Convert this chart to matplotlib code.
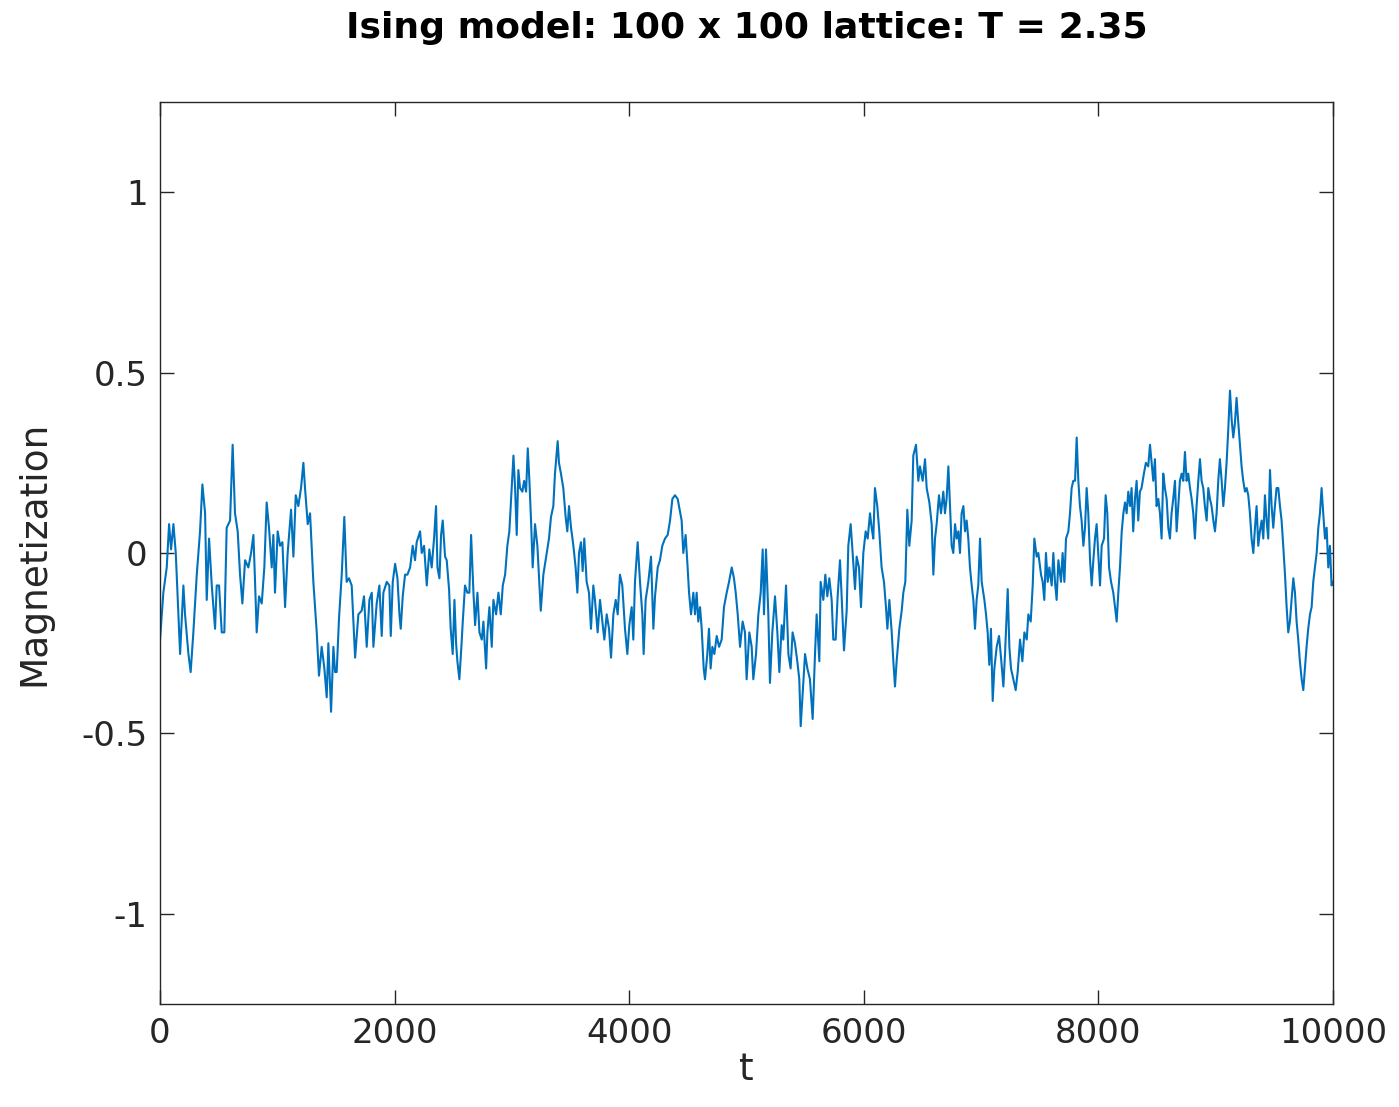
import matplotlib.pyplot as plt
import numpy as np

plt.rcParams["font.family"] = ["DejaVu Sans"]
plt.rcParams["axes.unicode_minus"] = False

# Monte Carlo time step and magnetization
t = [
    0, 28, 57, 77, 94, 114, 134, 171, 199, 213, 242, 261, 284, 313, 341, 361, 384, 398, 418, 441,
    469, 483, 503, 526, 548, 568, 597, 619, 639, 662, 682, 702, 725, 753, 776, 796, 810, 824, 844, 867,
    889, 909, 929, 952, 966, 980, 1003, 1023, 1043, 1066, 1088, 1117, 1137, 1157, 1179, 1202, 1222, 1236, 1259, 1279,
    1307, 1336, 1355, 1378, 1401, 1421, 1435, 1458, 1478, 1492, 1506, 1526, 1549, 1571, 1591, 1611,
    1634, 1663, 1691, 1719, 1739, 1762, 1785, 1805, 1819, 1847, 1870, 1890, 1904, 1933, 1955, 1967, 1984, 2004, 2024, 2041,
    2052, 2069, 2089, 2109, 2132, 2154, 2174, 2188, 2217, 2231, 2251, 2274, 2296, 2316, 2336, 2353, 2365, 2382, 2396, 2410,
    2430, 2444, 2464, 2478, 2495, 2510, 2524, 2535, 2552, 2569, 2581, 2600, 2620, 2637, 2652, 2672, 2686, 2706, 2723, 2743,
    2757, 2780, 2791, 2808, 2828, 2842, 2865, 2885, 2905, 2922, 2942, 2961, 2978, 2998, 3013, 3027, 3041, 3055, 3069, 3089,
    3104, 3121, 3135, 3149, 3163, 3177, 3197, 3217, 3246, 3268, 3297,
    3316, 3333, 3353, 3367, 3390, 3401, 3418, 3438, 3458, 3472, 3487, 3504, 3524, 3543, 3558, 3572, 3589, 3603, 3617, 3637,
    3657, 3674, 3694, 3708, 3731, 3751, 3771, 3788, 3808, 3828, 3845, 3865, 3885, 3902, 3921, 3941, 3964, 3984, 4001, 4021,
    4035, 4049, 4072, 4092, 4112, 4123, 4140, 4163, 4186, 4206, 4220, 4243, 4262, 4282, 4305, 4328, 4348, 4368, 4390, 4413,
    4430, 4447, 4461, 4481, 4498, 4510, 4527, 4547, 4561, 4575, 4589, 4604, 4618, 4635, 4646, 4666, 4680, 4694, 4709, 4726,
    4746, 4766, 4788, 4808, 4831, 4851, 4874, 4893, 4908, 4925, 4945,
    4967, 4987, 5001, 5024, 5044, 5058, 5081, 5101, 5121, 5138, 5149, 5166, 5186, 5200, 5220, 5243, 5263, 5280, 5300, 5314,
    5337, 5357, 5376, 5393, 5413, 5433, 5450, 5462, 5479, 5499, 5519, 5541, 5564, 5584, 5598, 5621, 5632, 5655, 5672, 5689,
    5706, 5726, 5740, 5760, 5777, 5797, 5811, 5831, 5854, 5868, 5888, 5905, 5925, 5939, 5959, 5976, 5996, 6016, 6033, 6053,
    6067, 6081, 6095, 6115, 6132, 6152, 6172, 6189, 6201, 6218, 6238, 6252, 6266, 6280, 6303, 6323, 6337, 6354, 6371, 6388,
    6408, 6422, 6445, 6465, 6479, 6502, 6522, 6536, 6559, 6579, 6593, 6607,
    6621, 6641, 6658, 6678, 6692, 6706, 6721, 6735, 6749, 6763, 6778, 6792, 6806, 6820, 6834, 6849, 6863, 6877, 6891, 6905,
    6920, 6934, 6948, 6962, 6976, 6991, 7005, 7028, 7042, 7056, 7070, 7084, 7099, 7113, 7133, 7153, 7170, 7190, 7204, 7227,
    7241, 7255, 7275, 7295, 7312, 7332, 7352, 7369, 7389, 7403, 7423, 7440, 7454, 7474, 7488, 7511, 7525, 7539, 7553, 7568,
    7582, 7602, 7616, 7630, 7644, 7659, 7681, 7695, 7710, 7724, 7744, 7758, 7772, 7786, 7801, 7815, 7829, 7843, 7857, 7872,
    7886, 7900, 7914, 7929, 7943, 7957, 7971, 7985, 8000, 8014, 8028, 8048, 8062, 8076, 8091, 8108, 8127, 8142, 8156, 8170,
    8184, 8199, 8213, 8227, 8241, 8255, 8270,
    8283, 8297, 8312, 8326, 8340, 8354, 8368, 8388, 8405, 8425, 8440, 8454, 8468, 8482, 8496, 8511, 8525, 8539, 8553, 8567,
    8582, 8596, 8610, 8624, 8638, 8653, 8667, 8681, 8695, 8710, 8724, 8738, 8752, 8766, 8781, 8795, 8809, 8823, 8837, 8852,
    8866, 8880, 8894, 8908, 8923, 8937, 8951, 8965, 8980, 8994, 9008, 9022, 9036, 9051, 9065, 9079, 9093, 9107, 9122, 9136,
    9150, 9164, 9178, 9193, 9207, 9221, 9235, 9250, 9264, 9278, 9292, 9306, 9321, 9335, 9349, 9363, 9377, 9392, 9406, 9420,
    9434, 9448, 9463, 9477, 9491, 9505, 9519, 9534, 9548, 9562, 9576, 9591, 9605, 9619, 9633, 9647, 9662, 9676, 9690, 9704,
    9718, 9733, 9747, 9761, 9775, 9789, 9804, 9818, 9832, 9846, 9861, 9875, 9889, 9903, 9917, 9932, 9946, 9960, 9974, 9988,
    10000,
]
magnetization = [
    -0.24, -0.11, -0.04, 0.08, 0.01, 0.08, 0.00, -0.28, -0.09, -0.17, -0.28, -0.33, -0.22, -0.06, 0.06, 0.19, 0.11, -0.13, 0.04, -0.09,
    -0.21, -0.09, -0.09, -0.22, -0.22, 0.07, 0.09, 0.30, 0.11, 0.06, -0.06, -0.14, -0.02, -0.04, 0.00, 0.05, -0.08, -0.22, -0.12, -0.14,
    -0.04, 0.14, 0.07, -0.04, 0.05, -0.11, 0.06, 0.02, 0.03, -0.15, 0.00, 0.12, -0.01, 0.16, 0.13, 0.18, 0.25, 0.18, 0.08, 0.11,
    -0.08, -0.22, -0.34, -0.26, -0.32, -0.40, -0.25, -0.44, -0.26, -0.33, -0.33, -0.18, -0.06, 0.10, -0.08, -0.07,
    -0.09, -0.29, -0.17, -0.16, -0.12, -0.26, -0.13, -0.11, -0.26, -0.14, -0.09, -0.23, -0.11, -0.08, -0.09, -0.23, -0.08, -0.03, -0.07, -0.17,
    -0.21, -0.12, -0.06, -0.06, -0.04, 0.02, -0.02, 0.03, 0.06, 0.00, 0.02, -0.09, 0.01, -0.04, 0.04, 0.13, -0.04, -0.07, 0.05, 0.09,
    -0.01, -0.02, -0.10, -0.21, -0.28, -0.13, -0.25, -0.30, -0.35, -0.26, -0.19, -0.09, -0.11, -0.11, 0.05, -0.11, -0.20, -0.11, -0.22, -0.24,
    -0.19, -0.32, -0.22, -0.15, -0.26, -0.13, -0.17, -0.11, -0.17, -0.09, -0.06, 0.02, 0.06, 0.18, 0.27, 0.18, 0.05, 0.23, 0.18, 0.17,
    0.20, 0.17, 0.29, 0.20, 0.09, -0.04, 0.08, 0.02, -0.16, -0.06, 0.00,
    0.04, 0.10, 0.13, 0.22, 0.31, 0.25, 0.22, 0.18, 0.10, 0.06, 0.13, 0.07, 0.02, -0.04, -0.11, 0.00, 0.03, -0.05, 0.04, -0.08,
    -0.11, -0.21, -0.09, -0.13, -0.22, -0.13, -0.19, -0.24, -0.17, -0.21, -0.29, -0.17, -0.13, -0.17, -0.06, -0.09, -0.21, -0.28, -0.20, -0.15,
    -0.24, -0.08, 0.03, -0.08, -0.17, -0.28, -0.13, -0.08, -0.01, -0.21, -0.12, -0.04, -0.02, 0.02, 0.04, 0.05, 0.09, 0.15, 0.16, 0.15,
    0.12, 0.09, 0.00, 0.05, -0.04, -0.11, -0.17, -0.11, -0.17, -0.11, -0.19, -0.15, -0.21, -0.32, -0.35, -0.28, -0.21, -0.32, -0.26, -0.28,
    -0.23, -0.26, -0.24, -0.15, -0.11, -0.08, -0.04, -0.07, -0.11, -0.17, -0.26,
    -0.19, -0.22, -0.35, -0.22, -0.26, -0.35, -0.28, -0.17, -0.11, 0.01, -0.17, 0.01, -0.17, -0.36, -0.22, -0.12, -0.22, -0.33, -0.20, -0.24,
    -0.09, -0.28, -0.32, -0.22, -0.25, -0.30, -0.35, -0.48, -0.39, -0.28, -0.32, -0.35, -0.46, -0.28, -0.17, -0.30, -0.08, -0.13, -0.06, -0.12,
    -0.07, -0.13, -0.24, -0.24, -0.12, -0.02, -0.12, -0.27, -0.16, 0.02, 0.08, 0.00, -0.10, -0.01, -0.04, -0.15, 0.00, 0.06, 0.04, 0.11,
    0.07, 0.04, 0.18, 0.13, 0.06, -0.04, -0.08, -0.15, -0.21, -0.13, -0.22, -0.30, -0.37, -0.30, -0.21, -0.16, -0.11, -0.08, 0.12, 0.02,
    0.09, 0.27, 0.30, 0.20, 0.24, 0.20, 0.26, 0.18, 0.14, 0.08, -0.06, 0.04,
    0.08, 0.16, 0.11, 0.17, 0.11, 0.15, 0.24, 0.13, 0.02, 0.00, 0.08, 0.04, 0.06, 0.00, 0.11, 0.13, 0.06, 0.09, 0.04, -0.04,
    -0.09, -0.13, -0.21, -0.13, -0.09, 0.04, -0.08, -0.13, -0.17, -0.22, -0.31, -0.21, -0.41, -0.32, -0.26, -0.23, -0.29, -0.37, -0.28, -0.10,
    -0.26, -0.32, -0.35, -0.38, -0.33, -0.24, -0.30, -0.22, -0.24, -0.17, -0.19, -0.09, 0.04, -0.01, 0.00, -0.06, -0.08, -0.13, 0.00, -0.08,
    -0.04, -0.09, 0.00, -0.08, -0.13, -0.02, -0.08, 0.00, -0.08, 0.04, 0.06, 0.11, 0.18, 0.20, 0.20, 0.32, 0.20, 0.13, 0.09, 0.02,
    0.07, 0.18, 0.11, -0.02, -0.09, -0.02, 0.04, 0.08, -0.01, -0.09, 0.02, 0.04, 0.16, 0.11, -0.04, -0.08, -0.11, -0.15, -0.19, -0.11,
    -0.04, 0.06, 0.11, 0.14, 0.11, 0.17, 0.13,
    0.18, 0.06, 0.15, 0.20, 0.09, 0.17, 0.18, 0.22, 0.25, 0.24, 0.30, 0.25, 0.20, 0.26, 0.13, 0.15, 0.11, 0.04, 0.22, 0.18,
    0.15, 0.07, 0.04, 0.11, 0.15, 0.20, 0.06, 0.13, 0.20, 0.22, 0.20, 0.28, 0.20, 0.22, 0.18, 0.15, 0.11, 0.04, 0.13, 0.20,
    0.26, 0.20, 0.18, 0.13, 0.09, 0.18, 0.15, 0.13, 0.09, 0.06, 0.11, 0.20, 0.26, 0.20, 0.13, 0.18, 0.25, 0.34, 0.45, 0.37,
    0.32, 0.36, 0.43, 0.36, 0.30, 0.24, 0.20, 0.17, 0.18, 0.16, 0.11, 0.04, 0.00, 0.07, 0.13, 0.02, 0.06, 0.09, 0.04, 0.16,
    0.09, 0.04, 0.23, 0.13, 0.07, 0.13, 0.18, 0.18, 0.13, 0.09, 0.02, -0.06, -0.15, -0.22, -0.19, -0.13, -0.07, -0.11, -0.19, -0.24,
    -0.30, -0.35, -0.38, -0.32, -0.26, -0.21, -0.17, -0.15, -0.08, -0.04, 0.00, 0.07, 0.11, 0.18, 0.11, 0.04, 0.07, -0.04, 0.02, -0.09,
    -0.08,
]

xticks = [0, 2000, 4000, 6000, 8000, 10000]
yticks = [-1, -0.5, 0, 0.5, 1]
ytick_labels = ["-1", "-0.5", "0", "0.5", "1"]

fig = plt.figure(figsize=(13.99, 11.07), dpi=100)
ax = fig.add_axes([0.1144, 0.0930, 0.8384, 0.8149])

ax.plot(t, magnetization, color="#0072BD", linewidth=1.5)

ax.set_xlim(0, 10000)
ax.set_ylim(-1.25, 1.25)
ax.set_xticks(xticks)
ax.set_yticks(yticks)
ax.set_yticklabels(ytick_labels)

ax.tick_params(direction="in", length=10, width=1, colors="#262626", labelsize=24.5,
               top=True, right=True, pad=9)
for spine in ax.spines.values():
    spine.set_color("#262626")
    spine.set_linewidth(1)

ax.set_xlabel("t", fontsize=27, color="#262626", labelpad=2)
ax.set_ylabel("Magnetization", fontsize=27, color="#262626", labelpad=21)
ax.set_title("Ising model: 100 x 100 lattice: T = 2.35", fontsize=26, fontweight="bold", pad=46)

plt.savefig("out.png", dpi=100)
